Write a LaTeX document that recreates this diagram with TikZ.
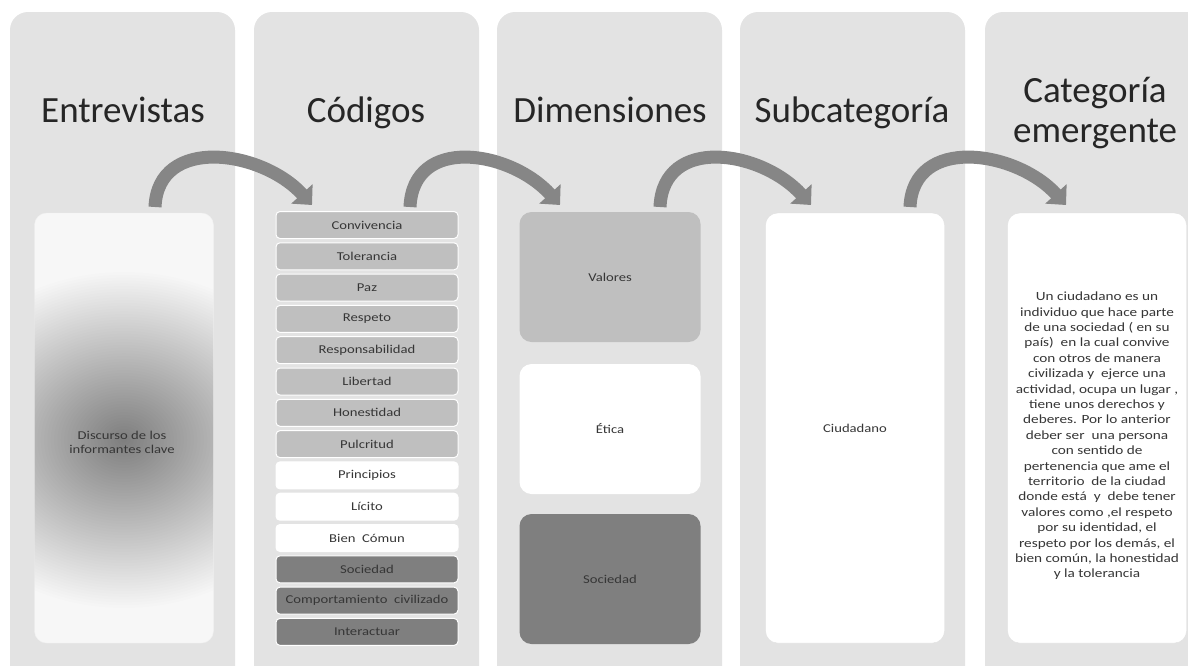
\documentclass[tikz,border=0pt]{standalone}
\usepackage{fontspec}
\setmainfont{Carlito}
\newfontfamily\labelfont[FakeStretch=1.22]{Carlito}
\usetikzlibrary{arrows.meta}
\definecolor{lanegray}{HTML}{E3E3E3}
\definecolor{lightbox}{HTML}{BFBFBF}
\definecolor{darkbox}{HTML}{7F7F7F}
\definecolor{arrowgray}{HTML}{868686}
\definecolor{ink}{HTML}{262626}
\definecolor{softink}{HTML}{363636}
\tikzset{
  lane/.style={fill=lanegray, rounded corners=18pt, minimum width=225pt, minimum height=700pt, inner sep=0pt},
  heading/.style={font=\fontsize{37}{40}\selectfont, text=ink, align=center},
  small/.style={font=\labelfont\fontsize{12}{14}\selectfont, text=softink, align=center},
  codebox/.style={small, draw=white, line width=1pt, rounded corners=4pt, minimum width=182pt, minimum height=27pt, inner sep=0pt},
  dimbox/.style={small, rounded corners=12pt, minimum width=181pt, minimum height=130pt, inner sep=0pt},
  tallbox/.style={small, rounded corners=12pt, draw=black!12, minimum width=179pt, minimum height=430pt, inner sep=0pt},
  flow/.style={line width=13pt, draw=arrowgray, -{Triangle[width=28pt,length=15pt]}}
}

\begin{document}
\begin{tikzpicture}[x=1pt, y=-1pt]
        \useasboundingbox (0,0) rectangle (1188,665);
        \clip (0,0) rectangle (1188,665);
        % columns
        \node[lane] (L1) at (122.5, 362) {};
        \node[lane] (L2) at (366.5, 362) {};
        \node[lane] (L3) at (609.5, 362) {};
        \node[lane] (L4) at (852.5, 362) {};
        \node[lane] (L5) at (1097.5, 362) {};
        \node[heading, anchor=base] (H1) at (123, 122) {Entrevistas};
        \node[heading, anchor=base] (H2) at (366, 122) {Códigos};
        \node[heading, anchor=base] (H3) at (610, 122) {Dimensiones};
        \node[heading, anchor=base] (H4) at (852, 122) {Subcategoría};
        \node[heading, anchor=south] (H5) at (1095, 152) {Categoría\\emergente};

        % soft grey glow, built from stacked ellipses
        \node[tallbox, draw=black!6, fill=black!3, path picture={
            \foreach \k in {0,...,59}
                \fill[black, opacity=0.008] ([yshift=-12pt]path picture bounding box.center)
                    ellipse ({200pt*(1-\k/60)} and {168pt*(1-\k/60)});}]
            (B1) at (124, 428) {};
        \node[small] (B1t) at (122, 442) {Discurso de los\\informantes clave};

        \foreach \t/\c [count=\i] in {Convivencia/lightbox, Tolerancia/lightbox, Paz/lightbox, Respeto/lightbox,
            Responsabilidad/lightbox, Libertad/lightbox, Honestidad/lightbox, Pulcritud/lightbox,
            Principios/white, Lícito/white, Bien\ \ Cómun/white, Sociedad/darkbox,
            Comportamiento\ \ civilizado/darkbox, Interactuar/darkbox}
            \node[codebox, fill=\c] (C\i) at (367, {225+31.3*(\i-1)}) {\t};

        \node[dimbox, fill=lightbox] (D1) at (610, 277) {Valores};
        \node[dimbox, fill=white] (D2) at (610, 429) {Ética};
        \node[dimbox, fill=darkbox] (D3) at (610, 579) {Sociedad};

        \node[tallbox, fill=white] (S1) at (855, 428) {Ciudadano};
        \node[tallbox, fill=white] (E1) at (1097, 428) {};
        \node[small, font=\labelfont\fontsize{12.5}{15.4}\selectfont] (E1t) at (1097, 436) {Un ciudadano es un\\
            individuo que hace parte\\ de una sociedad ( en su\\ país)\ \ en la cual convive\\
            con otros de manera\\ civilizada y\ \ ejerce una\\ actividad, ocupa un lugar ,\\
            tiene unos derechos y\\ deberes. Por lo anterior\\ deber ser\ \ una persona\\
            con sentido de\\ pertenencia que ame el\\ territorio\ \ de la ciudad\\
            donde está\ \ y\ \ debe tener\\ valores como ,el respeto\\ por su identidad, el\\
            respeto por los demás, el\\ bien común, la honestidad\\ y la tolerancia};

        % arrows between columns
        \coordinate (s1) at (155, 207);  \coordinate (e1) at (312, 205);
        \coordinate (s2) at (410, 207);  \coordinate (e2) at (560, 205);
        \coordinate (s3) at (660, 207);  \coordinate (e3) at (811, 205);
        \coordinate (s4) at (910, 207);  \coordinate (e4) at (1066, 205);
        \foreach \i in {1,...,4}
            \draw[flow] (s\i) .. controls +(3,-72) and +(-50,-55) .. (e\i);
\end{tikzpicture}
\end{document}
